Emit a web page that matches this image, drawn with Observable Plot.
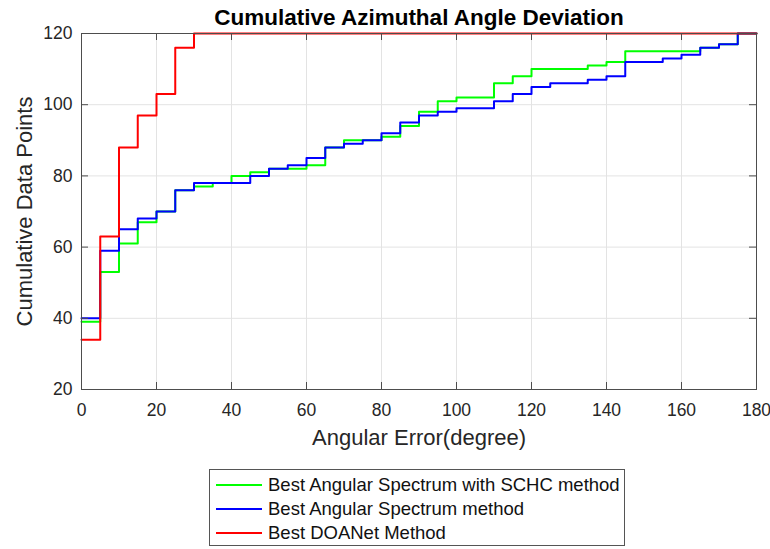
<!DOCTYPE html>
<html>
<head>
<meta charset="utf-8">
<script src="https://cdn.jsdelivr.net/npm/d3@7"></script>
<script src="https://cdn.jsdelivr.net/npm/@observablehq/plot@0.6"></script>
<style>
  html, body { margin: 0; padding: 0; background: #fff; }
  body { width: 770px; height: 549px; position: relative; overflow: hidden; font-family: "Liberation Sans", Arial, sans-serif; }
  #chart { position: absolute; left: 0; top: 0; }
  #legend { position: absolute; left: 209px; top: 469px; width: 416px; height: 77px; border: 1px solid #555; background: #fff; box-sizing: border-box; }
  .row { position: absolute; left: 0; height: 22px; display: flex; align-items: center; font-size: 18.5px; color: #111; white-space: nowrap; }
  .row .sw { width: 46px; height: 0; border-top: 2px solid; margin-left: 6px; margin-right: 6px; }
</style>
</head>
<body>
<div id="chart"></div>
<div id="legend"></div>
<script>
const title = "Cumulative Azimuthal Angle Deviation";
const xLabel = "Angular Error(degree)";
const yLabel = "Cumulative Data Points";
const xTicks = [0, 20, 40, 60, 80, 100, 120, 140, 160, 180];
const yTicks = [20, 40, 60, 80, 100, 120];
const angles = [0, 5, 10, 15, 20, 25, 30, 35, 40, 45, 50, 55, 60, 65, 70, 75, 80, 85, 90, 95, 100, 105, 110, 115, 120, 125, 130, 135, 140, 145, 150, 155, 160, 165, 170, 175, 180];
const schc = [39, 53, 61, 67, 70, 76, 77, 78, 80, 81, 82, 82, 83, 88, 90, 90, 91, 94, 98, 101, 102, 102, 106, 108, 110, 110, 110, 111, 112, 115, 115, 115, 115, 116, 117, 120, 120];
const angular = [40, 59, 65, 68, 70, 76, 78, 78, 78, 80, 82, 83, 85, 88, 89, 90, 92, 95, 97, 98, 99, 99, 101, 103, 105, 106, 106, 107, 108, 112, 112, 113, 114, 116, 117, 120, 120];
const doanet = [34, 63, 88, 97, 103, 116, 120, 120, 120, 120, 120, 120, 120, 120, 120, 120, 120, 120, 120, 120, 120, 120, 120, 120, 120, 120, 120, 120, 120, 120, 120, 120, 120, 120, 120, 120, 120];
const seriesNames = ["Best Angular Spectrum with SCHC method", "Best Angular Spectrum method", "Best DOANet Method"];
const seriesColors = ["#00ff00", "#0000ff", "#ff0000"];
const seriesValues = [schc, angular, doanet];

const rows = [];
seriesNames.forEach((name, s) => {
  angles.forEach((a, i) => rows.push({series: name, x: a, y: seriesValues[s][i]}));
});

const W = 770, H = 455;
const mL = 81, mR = 14, mT = 33, mB = 66;
const plotW = W - mL - mR, plotH = H - mT - mB;
const tickLen = 7;
const axisColor = "#4d4d4d";

const chart = Plot.plot({
  width: W,
  height: H,
  marginLeft: mL,
  marginRight: mR,
  marginTop: mT,
  marginBottom: mB,
  style: {fontFamily: "Liberation Sans, Arial, sans-serif", color: "#262626", background: "#fff", overflow: "visible"},
  x: {domain: [0, 180]},
  y: {domain: [20, 120]},
  color: {domain: seriesNames, range: seriesColors},
  marks: [
    Plot.gridX(xTicks, {stroke: "#e3e3e3", strokeOpacity: 1}),
    Plot.gridY(yTicks, {stroke: "#e3e3e3", strokeOpacity: 1}),
    Plot.line(rows, {x: "x", y: "y", z: "series", stroke: "series", strokeWidth: 2, curve: "step-after"}),
    Plot.frame({stroke: axisColor, strokeWidth: 1}),
    Plot.tickX(xTicks, {x: d => d, insetTop: plotH - tickLen, stroke: axisColor}),
    Plot.tickX(xTicks, {x: d => d, insetBottom: plotH - tickLen, stroke: axisColor}),
    Plot.tickY(yTicks, {y: d => d, insetRight: plotW - tickLen, stroke: axisColor}),
    Plot.tickY(yTicks, {y: d => d, insetLeft: plotW - tickLen, stroke: axisColor}),
    Plot.axisX(xTicks, {tickSize: 0, tickPadding: 14, fontSize: 17.5, label: null, fill: "#262626"}),
    Plot.axisY(yTicks, {tickSize: 0, tickPadding: 9, fontSize: 17.5, label: null, fill: "#262626"}),
    Plot.text([title], {text: d => d, frameAnchor: "top", lineAnchor: "middle", dy: -16, fontSize: 22.5, fontWeight: "bold", fill: "#000"}),
    Plot.text([xLabel], {text: d => d, frameAnchor: "bottom", lineAnchor: "middle", dy: 48, fontSize: 22, fill: "#262626"}),
    Plot.text([yLabel], {text: d => d, frameAnchor: "left", textAnchor: "middle", lineAnchor: "middle", dx: -57, rotate: -90, fontSize: 22, fill: "#262626"})
  ]
});
document.getElementById("chart").appendChild(chart);

const legend = document.getElementById("legend");
const rowTops = [4, 28, 52];
seriesNames.forEach((name, i) => {
  const r = document.createElement("div");
  r.className = "row";
  r.style.top = rowTops[i] + "px";
  const sw = document.createElement("span");
  sw.className = "sw";
  sw.style.borderTopColor = seriesColors[i];
  const t = document.createElement("span");
  t.textContent = name;
  r.appendChild(sw);
  r.appendChild(t);
  legend.appendChild(r);
});
</script>
</body>
</html>
